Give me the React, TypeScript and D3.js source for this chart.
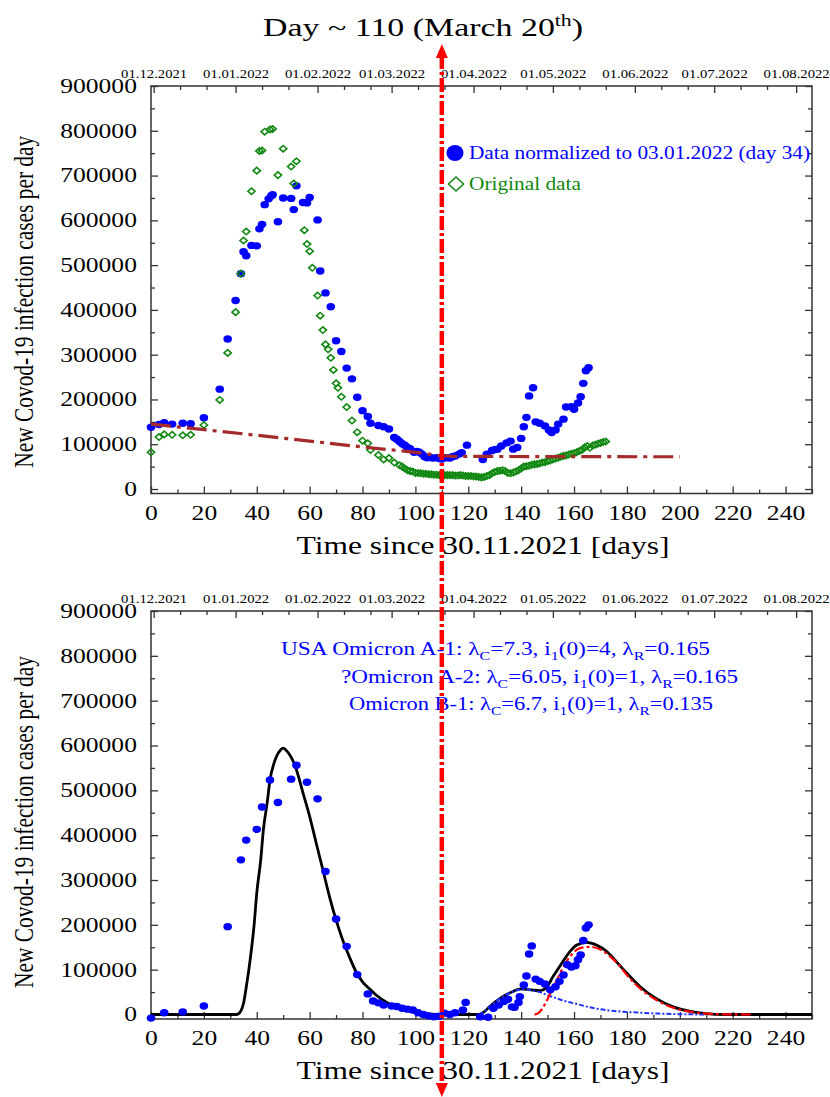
import React, { useEffect, useRef } from 'react';
import * as d3 from 'd3';

const serif = '"Liberation Serif", "Times New Roman", serif';
const stretch = 1.28; // the source picture is stretched sideways

// axes
const dayTicks = d3.range(0, 241, 20);
const dayMinor = d3.range(10, 251, 20);
const caseTicks = d3.range(0, 900001, 100000);
const caseMinor = d3.range(50000, 900000, 100000);
const monthStart = [1, 32, 63, 91, 122, 152, 183, 213, 244];
const monthLabel = ['01.12.2021', '01.01.2022', '01.02.2022', '01.03.2022', '01.04.2022',
  '01.05.2022', '01.06.2022', '01.07.2022', '01.08.2022'];
const monthMinor = monthStart.flatMap(d => [d + 10, d + 20]).filter(d => d <= 250);

// top panel: [day, cases]
const normalized = [
  [0, 138000], [3, 144000], [5, 148000], [8, 145000], [12, 147000], [15, 146000], [20, 159000],
  [26, 223000], [29, 335000], [32, 421000], [34, 481000], [35, 530000], [36, 521000], [38, 544000],
  [40, 543000], [41, 581000], [42, 591000], [43, 635000], [44.5, 648000], [45.5, 655000], [46, 657000],
  [48, 597000], [50, 650000], [53, 649000], [54, 624000], [55, 677000], [57.5, 640000], [59, 639000],
  [60, 651000], [63, 601000], [64, 487000], [66, 438000], [68, 407000], [70, 331000], [72, 307000],
  [74, 270000], [76, 246000], [78, 205000], [80, 175000], [82, 162000], [83, 147000], [86, 142000],
  [88, 139000], [90, 134000], [92, 115000], [93, 111000], [94, 106000], [95, 101000], [96, 98000],
  [97, 93000], [98, 90000], [99.5, 82000], [100.5, 84000], [101.5, 82000], [102.5, 78000], [103.5, 72000],
  [104.5, 70000], [105.5, 71000], [106.5, 69000], [108, 70000], [109, 68000], [110, 67000], [111.5, 70000],
  [113, 69000], [114, 72000], [115, 74000], [116.5, 78000], [117.5, 81000], [119.5, 98000],
  [125.5, 66000], [127, 78000], [129, 86000], [130, 88000], [131, 89000], [132.5, 96000], [134.5, 103000],
  [136, 107000], [137, 89000], [138.5, 93000], [140, 113000], [141, 139000], [142, 160000], [143, 208000],
  [144.5, 226000], [145.5, 150000], [147, 147000], [149, 141000], [150.5, 132000], [151.5, 126000],
  [153, 132000], [154, 145000], [156, 156000], [157, 183000], [159, 184000], [160, 178000],
  [161.5, 192000], [162.5, 206000], [163.5, 236000], [164.5, 264000], [165.5, 271000],
];

const original = [
  [0, 82000], [3, 116000], [5, 122000], [8, 121000], [12, 120000], [15, 121000], [20, 143000],
  [26, 199000], [29, 304000], [32, 395000], [34, 481000], [35, 555000], [36, 575000], [38, 665000],
  [40, 711000], [41, 755000], [42, 756000], [43, 798000], [45, 803000], [46, 804000], [48, 701000],
  [50, 760000], [53, 720000], [54, 682000], [55, 732000], [58, 578000], [59, 547000], [60, 531000],
  [61, 494000], [63, 432000], [64, 387000], [65, 355000], [66, 323000], [67, 312000], [68, 293000],
  [69, 266000], [70, 236000], [70.7, 226000], [72, 206000], [74, 183000], [76, 153000], [78, 127000],
  [80, 108000], [82, 102000], [83, 87000], [86, 76000], [88, 66000], [90, 69000], [92, 59000],
  [94, 53000], [95, 50000], [96, 46000], [97, 42000], [98, 40000], [99, 39000], [100, 36000],
  [101, 36000], [102, 35000], [103, 34000], [104, 34000], [105, 33000], [106, 33000], [107, 32000],
  [108, 32000], [109, 31000], [110, 31000], [111, 31000], [112, 31000], [113, 31000], [114, 31000],
  [115, 30000], [116, 30000], [117, 31000], [118, 30000], [119, 29000], [120, 29000], [121, 29000],
  [122, 28000], [123, 28000], [124, 27000], [125, 26000], [126, 27000], [127, 29000], [128, 31000],
  [129, 35000], [130, 38000], [131, 40000], [132, 41000], [133, 42000], [134, 40000], [135, 36000],
  [136, 35000], [137, 37000], [138, 39000], [139, 42000], [140, 46000], [141, 50000], [142, 51000],
  [143, 52000], [144, 54000], [145, 55000], [146, 56000], [147, 57000], [148, 59000], [149, 60000],
  [150, 62000], [151, 64000], [152, 66000], [153, 68000], [154, 70000], [155, 72000], [156, 74000],
  [157, 75000], [158, 77000], [159, 79000], [160, 80000], [161, 82000], [162, 85000], [163, 87000],
  [164, 93000], [165, 96000], [166, 92000], [167, 97000], [168, 99000], [169, 101000], [170, 103000],
  [171, 105000], [172, 106000],
];

const baseline = [[0, 145000], [40, 120000], [60, 107000], [80, 94000], [100, 82000], [114, 73000], [200, 72000]];

// bottom panel
const difference = [
  [0, -8000], [5, 4000], [12, 6000], [20, 19000], [29, 196000], [34, 345000], [36, 389000], [40, 413000],
  [42, 463000], [45, 523000], [48, 473000], [53, 525000], [55, 556000], [59, 518000], [63, 481000],
  [66, 319000], [70, 213000], [74, 152000], [78, 89000], [82, 46000], [84, 30000], [86, 26000],
  [88, 21000], [91, 19000], [93, 18000], [95, 14000], [97, 12000], [99, 10000], [101, 4000], [103, 0],
  [105, -3000], [107, -5000], [109, -4000], [111, 3000], [113, 0], [115, 4000], [118, 10000], [119, 27000],
  [124.5, -5000], [127.5, -6000], [129.5, 14000], [131.5, 21000], [133.5, 29000], [135, 34000],
  [136.5, 17000], [137.5, 16000], [139, 27000], [139.5, 40000], [141, 66000], [142, 86000], [143, 135000],
  [144, 153000], [145.5, 79000], [147, 74000], [149, 68000], [151, 55000], [153, 62000], [154.5, 74000],
  [156, 88000], [157.5, 111000], [159, 106000], [160.5, 109000], [161.5, 122000], [162.5, 133000],
  [163.5, 165000], [164.5, 193000], [165.5, 200000],
];

const fitTotal = [
  [0, 0], [32.5, 0], [34, 8000], [35, 25000], [36, 60000], [37.5, 122000], [39, 200000], [40, 271000],
  [41.5, 345000], [42.5, 412000], [44, 475000], [45, 523000], [46.5, 560000], [47.5, 576000],
  [49, 590000], [50, 594000], [51, 590000], [52.5, 579000], [54, 562000], [55, 546000], [57.5, 494000],
  [60, 442000], [62.5, 382000], [65, 323000], [67.5, 263000], [70, 211000], [72.5, 166000],
  [75, 129000], [77.5, 96000], [80, 73000], [82.5, 58000], [85, 44000], [90, 24000], [95, 12000],
  [100, 5000], [105, 1500], [110, 0], [124, 0], [126, 6000], [128, 17000], [132, 36000], [136, 49000],
  [140, 57000], [144, 55000], [147, 53000], [149.5, 60000], [152, 84000], [155, 111000], [158, 137000],
  [161, 155000], [164.8, 161000], [168.5, 155000], [172.5, 140000], [176, 118000], [180, 92000],
  [185, 62000], [191, 36000], [197.5, 17000], [204, 7000], [210, 2000], [217, 0], [250, 0],
];

const fitA2 = [
  [124, 0], [126, 6000], [128, 17000], [132, 36000], [136, 49000], [140, 56000], [144, 54000],
  [147, 50000], [150, 43000], [153.5, 36000], [156.5, 30000], [160, 25000], [166, 16000], [172, 10000],
  [178, 6500], [185, 4000], [192, 2000], [200, 800], [210, 0],
];

const fitB1 = [
  [145, 0], [146.5, 3000], [148.4, 17000], [151, 47000], [153.5, 77000], [156, 107000], [159, 133000],
  [162.3, 148000], [166, 151000], [170, 145000], [173.7, 129000], [177, 110000], [180, 88000],
  [185, 58000], [191, 33000], [197.5, 15000], [204, 6000], [210, 2000], [217, 500], [228, 0],
];

const fitNames = ['USA Omicron A-1', '?Omicron A-2', 'Omicron B-1'];
const fitLambdaC = ['7.3', '6.05', '6.7'];
const fitI0 = ['4', '1', '1'];
const fitLambdaR = ['0.165', '0.165', '0.135'];

const markDay = 110;

function panel(svg: any, top: number, bottom: number, labelShift: number) {
  const x = d3.scaleLinear().domain([0, 250]).range([151, 812]);
  const y = d3.scaleLinear().domain([-10000, 900000]).range([bottom, top]);
  const g = svg.append('g');

  const style = (a: any, size: number) => {
    a.select('.domain').remove();
    a.attr('color', '#333').attr('font-family', serif).attr('font-size', size);
    a.selectAll('line').attr('stroke-width', 1.3);
    a.selectAll('text').attr('fill', '#000').attr('transform', `scale(${stretch},1)`);
    return a;
  };

  style(g.append('g').attr('transform', `translate(0,${bottom})`)
    .call(d3.axisBottom(x).tickValues(dayTicks).tickSizeInner(-7).tickSizeOuter(0).tickPadding(12)), 20);
  style(g.append('g').attr('transform', `translate(0,${bottom})`)
    .call(d3.axisBottom(x).tickValues(dayMinor).tickSizeInner(-4).tickSizeOuter(0).tickFormat(() => '')), 20);
  style(g.append('g').attr('transform', 'translate(151,0)')
    .call(d3.axisLeft(y).tickValues(caseTicks).tickSizeInner(-7).tickSizeOuter(0).tickPadding(11)
      .tickFormat(d3.format('d'))), 20);
  style(g.append('g').attr('transform', 'translate(151,0)')
    .call(d3.axisLeft(y).tickValues(caseMinor).tickSizeInner(-4).tickSizeOuter(0).tickFormat(() => '')), 20);
  style(g.append('g').attr('transform', 'translate(812,0)')
    .call(d3.axisRight(y).tickValues(caseTicks).tickSizeInner(-7).tickSizeOuter(0).tickFormat(() => '')), 20);
  style(g.append('g').attr('transform', 'translate(812,0)')
    .call(d3.axisRight(y).tickValues(caseMinor).tickSizeInner(-4).tickSizeOuter(0).tickFormat(() => '')), 20);
  style(g.append('g').attr('transform', `translate(0,${top})`)
    .call(d3.axisTop(x).tickValues(monthStart).tickSizeInner(-7).tickSizeOuter(0).tickPadding(8)
      .tickFormat((d: any, i: number) => monthLabel[i])), 11.5);
  style(g.append('g').attr('transform', `translate(0,${top})`)
    .call(d3.axisTop(x).tickValues(monthMinor).tickSizeInner(-4).tickSizeOuter(0).tickFormat(() => '')), 11.5);

  g.append('rect').attr('x', 151).attr('y', top).attr('width', 661).attr('height', bottom - top)
    .attr('fill', 'none').attr('stroke', '#333').attr('stroke-width', 1.5);

  g.append('text').attr('x', 483).attr('y', bottom + 60).attr('text-anchor', 'middle')
    .attr('font-family', serif).attr('font-size', 25).attr('textLength', 373)
    .attr('lengthAdjust', 'spacingAndGlyphs').text('Time since 30.11.2021 [days]');

  g.append('text')
    .attr('transform', `translate(33,${(top + bottom) / 2 + labelShift}) scale(${stretch},1) rotate(-90)`)
    .attr('text-anchor', 'middle').attr('font-family', serif).attr('font-size', 22)
    .attr('textLength', 332).attr('lengthAdjust', 'spacingAndGlyphs')
    .text('New Covod-19 infection cases per day');

  return { x, y, g };
}

function dots(g: any, x: any, y: any, data: number[][], color: string) {
  g.append('g').selectAll('ellipse').data(data).join('ellipse')
    .attr('cx', (d: number[]) => x(d[0])).attr('cy', (d: number[]) => y(d[1]))
    .attr('rx', 4.3).attr('ry', 3.7).attr('fill', color);
}

function diamond(cx: number, cy: number, w: number, h: number) {
  return `M${cx - w},${cy}L${cx},${cy - h}L${cx + w},${cy}L${cx},${cy + h}Z`;
}

export default function App() {
  const ref = useRef<SVGSVGElement>(null);

  useEffect(() => {
    const svg = d3.select(ref.current);
    svg.selectAll('*').remove();

    // title
    const title = svg.append('text').attr('x', 263).attr('y', 36).attr('font-family', serif)
      .attr('font-size', 25).attr('textLength', 320).attr('lengthAdjust', 'spacingAndGlyphs');
    title.append('tspan').text('Day ~ 110 (March 20');
    title.append('tspan').attr('dy', -10).attr('font-size', 16).text('th');
    title.append('tspan').attr('dy', 10).text(')');

    // ---- top panel
    const a = panel(svg, 86, 493.5, 12);
    dots(a.g, a.x, a.y, normalized, '#0000ff');
    a.g.append('g').selectAll('path').data(original).join('path')
      .attr('d', (d: number[]) => diamond(a.x(d[0]), a.y(d[1]), 3.6, 3.2))
      .attr('fill', 'none').attr('stroke', '#118811').attr('stroke-width', 1.6);
    a.g.append('path').datum(baseline)
      .attr('d', d3.line().x((d: any) => a.x(d[0])).y((d: any) => a.y(d[1])).curve(d3.curveMonotoneX))
      .attr('fill', 'none').attr('stroke', '#a52a2a').attr('stroke-width', 3.2)
      .attr('stroke-dasharray', '20,6,4,6');

    a.g.append('ellipse').attr('cx', 455).attr('cy', 153).attr('rx', 8.5).attr('ry', 8).attr('fill', '#0000ff');
    a.g.append('text').attr('x', 469).attr('y', 159).attr('font-family', serif).attr('font-size', 18)
      .attr('fill', '#0000ff').attr('textLength', 341).attr('lengthAdjust', 'spacingAndGlyphs')
      .text('Data normalized to 03.01.2022 (day 34)');
    a.g.append('path').attr('d', diamond(456, 184, 7.5, 7)).attr('fill', 'none')
      .attr('stroke', '#118811').attr('stroke-width', 1.5);
    a.g.append('text').attr('x', 469).attr('y', 190).attr('font-family', serif).attr('font-size', 18)
      .attr('fill', '#118811').attr('textLength', 112).attr('lengthAdjust', 'spacingAndGlyphs')
      .text('Original data');

    // ---- bottom panel
    const b = panel(svg, 611, 1019, 7);
    const line = d3.line().x((d: any) => b.x(d[0])).y((d: any) => b.y(d[1])).curve(d3.curveMonotoneX);
    b.g.append('path').datum(fitTotal).attr('d', line as any).attr('fill', 'none')
      .attr('stroke', '#000').attr('stroke-width', 2.8);
    b.g.append('path').datum(fitA2).attr('d', line as any).attr('fill', 'none')
      .attr('stroke', '#2233ff').attr('stroke-width', 2).attr('stroke-dasharray', '5,2,2,2');
    b.g.append('path').datum(fitB1).attr('d', line as any).attr('fill', 'none')
      .attr('stroke', '#ff0000').attr('stroke-width', 2.2).attr('stroke-dasharray', '10,3,3,3');
    dots(b.g, b.x, b.y, difference, '#0000ff');

    const fitX = [281, 341, 349];
    const fitY = [655, 683, 710];
    const fitW = [429, 397, 364];
    fitNames.forEach((name, i) => {
      const t = b.g.append('text').attr('x', fitX[i]).attr('y', fitY[i]).attr('font-family', serif)
        .attr('font-size', 19).attr('fill', '#0000ff').attr('textLength', fitW[i])
        .attr('lengthAdjust', 'spacingAndGlyphs');
      t.append('tspan').text(`${name}: \u03bb`);
      t.append('tspan').attr('dy', 5).attr('font-size', 13).text('C');
      t.append('tspan').attr('dy', -5).text(`=${fitLambdaC[i]}, i`);
      t.append('tspan').attr('dy', 5).attr('font-size', 13).text('1');
      t.append('tspan').attr('dy', -5).text(`(0)=${fitI0[i]}, \u03bb`);
      t.append('tspan').attr('dy', 5).attr('font-size', 13).text('R');
      t.append('tspan').attr('dy', -5).text(`=${fitLambdaR[i]}`);
    });

    // red marker at day 110 across both panels
    const mx = a.x(markDay);
    svg.append('line').attr('x1', mx).attr('x2', mx).attr('y1', 55).attr('y2', 1086)
      .attr('stroke', '#ff0000').attr('stroke-width', 4.5).attr('stroke-dasharray', '14,3,3,3');
    svg.append('path').attr('d', `M${mx},44L${mx - 6},58L${mx + 6},58Z`).attr('fill', '#ff0000');
    svg.append('path').attr('d', `M${mx},1097L${mx - 6},1083L${mx + 6},1083Z`).attr('fill', '#ff0000');
  }, []);

  return (
    <svg ref={ref} width={830} height={1097}
      style={{ position: 'absolute', left: 0, top: 0, background: '#fff' }} />
  );
}
